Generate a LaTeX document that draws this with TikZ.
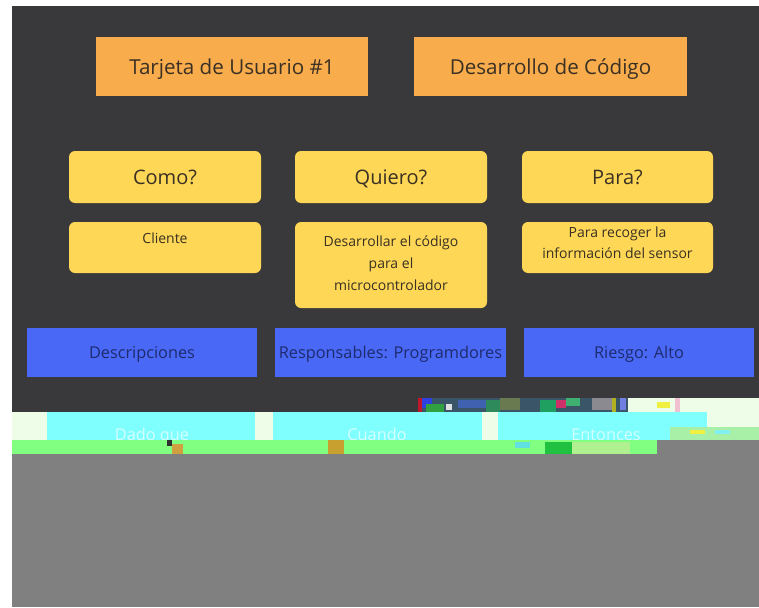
\documentclass[tikz,border=0pt]{standalone}
\usepackage{fontspec}
\setmainfont{Open Sans}
\definecolor{board}{HTML}{39393B}
\definecolor{orangebox}{HTML}{F8AC4C}
\definecolor{yellowbox}{HTML}{FDD755}
\definecolor{bluebox}{HTML}{4A68F6}
\definecolor{ink}{HTML}{3A3024}
\definecolor{navy}{HTML}{1D2B6E}
\definecolor{glcyan}{HTML}{80FFFF}
\definecolor{gllight}{HTML}{EEFDE8}
\definecolor{glgreen}{HTML}{80FF80}
\definecolor{glgray}{HTML}{808080}
\definecolor{gltext}{HTML}{D4FFFF}
\definecolor{ga}{HTML}{3A5468}
\definecolor{gb}{HTML}{C0182A}
\definecolor{gc}{HTML}{3040E0}
\definecolor{gd}{HTML}{30A040}
\definecolor{ge}{HTML}{E0E0E0}
\definecolor{gf}{HTML}{4060B0}
\definecolor{gg}{HTML}{2E8A5A}
\definecolor{gh}{HTML}{6A7A50}
\definecolor{gi}{HTML}{20A060}
\definecolor{gj}{HTML}{D0306A}
\definecolor{gk}{HTML}{40B070}
\definecolor{gl}{HTML}{8A8A90}
\definecolor{gm}{HTML}{B0B020}
\definecolor{gn}{HTML}{7080E0}
\definecolor{go}{HTML}{F0F040}
\definecolor{gp}{HTML}{F0C0D0}
\definecolor{gq}{HTML}{A8F0A8}
\definecolor{gr}{HTML}{80F0F0}
\definecolor{gs}{HTML}{303030}
\definecolor{gt}{HTML}{D0A040}
\definecolor{gu}{HTML}{C8A030}
\definecolor{gv}{HTML}{60E0E0}
\definecolor{gw}{HTML}{20C040}
\definecolor{gx}{HTML}{B0F090}
\begin{document}
\begin{tikzpicture}[x=1pt,y=-1pt,
  box/.style={inner sep=0pt, outer sep=0pt, anchor=north west},
  obox/.style={box, fill=orangebox, text=ink, text height=16pt, text depth=0pt, font=\fontsize{20.6}{25}\selectfont},
  ybox/.style={box, fill=yellowbox, rounded corners=6pt, text=ink, text height=14.5pt, text depth=0pt, font=\fontsize{20}{24}\selectfont},
  ytext/.style={inner sep=0pt, text=ink, align=center},
  bbox/.style={box, fill=bluebox, text=navy, text height=12.5pt, text depth=0pt, font=\fontsize{16.3}{20}\selectfont},
  gltxt/.style={inner sep=0pt, anchor=base, text=gltext, font=\fontsize{16.3}{20}\selectfont}]
\useasboundingbox (0,0) rectangle (759,607);
\fill[white] (0,0) rectangle (759,607);
\fill[board] (12,6) rectangle (759,412);

% header
\node[obox, minimum width=272pt, minimum height=59pt] (tarjeta) at (96,37) {Tarjeta de Usuario \#1};
\node[obox, minimum width=273pt, minimum height=59pt] (desarrollo) at (414,37) {Desarrollo de Código};

% question row
\node[ybox, minimum width=192pt, minimum height=52pt] (como) at (69,151) {Como?};
\node[ybox, minimum width=192pt, minimum height=52pt] (quiero) at (295,151) {Quiero?};
\node[ybox, minimum width=191pt, minimum height=52pt] (para) at (522,151) {Para?};

% answer row
\node[ybox, minimum width=192pt, minimum height=51pt] (cliente) at (69,222) {};
\node[ybox, minimum width=192pt, minimum height=86pt] (codigo) at (295,222) {};
\node[ybox, minimum width=191pt, minimum height=51pt] (recoger) at (522,222) {};
\node[ytext, font=\fontsize{14}{22}\selectfont] (clientetxt) at (165,238) {Cliente};
\node[ytext, font=\fontsize{14}{22}\selectfont] (codigotxt) at (391,263.5) {Desarrollar el código\\para el\\microcontrolador};
\node[ytext, font=\fontsize{14}{21}\selectfont] (recogertxt) at (617.5,242.5) {Para recoger la\\información del sensor};

% blue row
\node[bbox, minimum width=230pt, minimum height=49pt] (descr) at (27,328) {Descripciones};
\node[bbox, minimum width=231pt, minimum height=49pt] (resp) at (275,328) {Responsables: Programdores};
\node[bbox, minimum width=230pt, minimum height=49pt] (riesgo) at (524,328) {Riesgo: Alto};

% corrupted lower part
\fill[ga] (418,398) rectangle (628,412);
\fill[gb] (418,398) rectangle (422,412);
\fill[gc] (422,398) rectangle (432,408);
\fill[gd] (426,404) rectangle (444,412);
\fill[ge] (446,404) rectangle (452,410);
\fill[gf] (458,400) rectangle (486,408);
\fill[gg] (486,400) rectangle (500,412);
\fill[gh] (500,398) rectangle (520,410);
\fill[gi] (540,400) rectangle (556,412);
\fill[gj] (556,400) rectangle (566,408);
\fill[gk] (566,398) rectangle (580,406);
\fill[gl] (592,398) rectangle (612,410);
\fill[gm] (612,398) rectangle (616,412);
\fill[gn] (620,398) rectangle (626,410);
\fill[gllight] (628,398) rectangle (759,412);
\fill[go] (657,402) rectangle (670,408);
\fill[gp] (675,398) rectangle (680,412);

\fill[gllight] (12,412) rectangle (759,440);
\fill[glcyan] (47,412) rectangle (255,440);
\fill[glcyan] (273,412) rectangle (482,440);
\fill[glcyan] (498,412) rectangle (707,440);
\fill[gq] (670,427) rectangle (759,440);
\fill[go] (690,430) rectangle (705,434);
\fill[gr] (715,430) rectangle (730,434);

\node[gltxt] (dado) at (152,440) {Dado que};
\node[gltxt] (cuando) at (377,440) {Cuando};
\node[gltxt] (entonces) at (606,440) {Entonces};

\fill[glgreen] (12,440) rectangle (657,454);
\fill[gs] (167,440) rectangle (172,446);
\fill[gt] (172,444) rectangle (183,454);
\fill[gu] (328,440) rectangle (344,454);
\fill[gv] (515,442) rectangle (530,448);
\fill[gw] (545,442) rectangle (572,454);
\fill[gx] (572,442) rectangle (630,454);
\fill[glgray] (657,440) rectangle (759,607);
\fill[glgray] (12,454) rectangle (657,607);
\end{tikzpicture}
\end{document}
